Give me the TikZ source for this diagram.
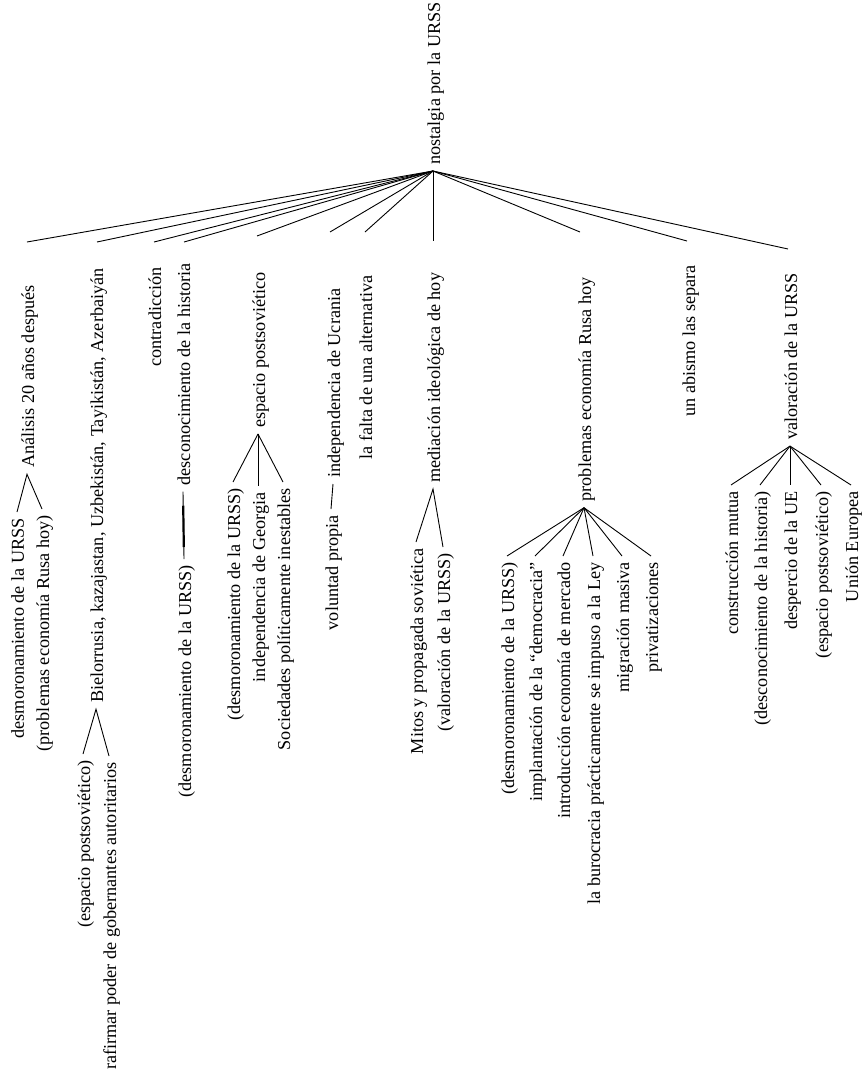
\documentclass[tikz,border=0pt]{standalone}
\usepackage{fontspec}
\setmainfont{Liberation Serif}

\begin{document}
\begin{tikzpicture}[x=0.5pt, y=-0.5pt,
		lbl/.style={rotate=90, inner xsep=3pt, inner ysep=0pt, text height=0.9em, text depth=0.2em, font=\fontsize{9.1}{11}\selectfont},
		lbltop/.style={lbl, anchor=east},
		lblbot/.style={lbl, anchor=west},
		branch/.style={line width=0.45pt}]
		\useasboundingbox (0,0) rectangle (862,1082);

		%root
		\node[lblbot] (root) at (433,171) {nostalgia por la URSS};

		%first level
		\node[lbltop] (analisis) at (27,279) {Análisis 20 años después};
		\node[lbltop] (paises) at (96,262) {Bielorrusia, kazajastan, Uzbekistán, Tayikistán, Azerbaiyán};
		\node[lbltop] (contra) at (154,261) {contradicción};
		\node[lbltop] (descon) at (183,257) {desconocimiento de la historia};
		\node[lbltop] (espacio) at (258,266) {espacio postsoviético};
		\node[lblbot] (ucrania) at (333,484) {independencia de Ucrania};
		\node[lblbot] (falta) at (365,466) {la falta de una alternativa};
		\node[lblbot] (mediacion) at (433,489) {mediación ideológica de hoy};
		\node[lbltop] (problemas) at (584,271) {problemas economía Rusa hoy};
		\node[lbltop] (abismo) at (688,259) {un abismo las separa};
		\node[lbltop] (valoracion) at (790,267) {valoración de la URSS};

		%branches from the root
		\foreach \n/\x/\y in {analisis/27/242, paises/97/242, contra/154/242, descon/184/242, espacio/257/236, ucrania/330/232, falta/365/232, mediacion/433/241, problemas/580/232, abismo/687/241, valoracion/788/249}
		{
			\coordinate (e-\n) at (\x,\y);
			\draw[branch] (root.west) -- (e-\n);
		}

		%second level
		\node[lbltop] (analisis-a) at (17,512) {desmoronamiento de la URSS};
		\node[lbltop] (analisis-b) at (42,509) {(problemas economía Rusa hoy)};
		\draw[branch] (analisis-a.east) -- (analisis.west) -- (analisis-b.east);

		\node[lbltop] (paises-a) at (83,754) {(espacio postsoviético)};
		\node[lbltop] (paises-b) at (109,756) {rafirmar poder de gobernantes autoritarios};
		\draw[branch] (paises-a.east) -- (paises.west) -- (paises-b.east);

		\node[lbltop] (descon-a) at (184,559) {(desmoronamiento de la URSS)};
		\draw[branch] (descon.west) -- (descon-a.east);
		\draw[line width=1.1pt, shorten <=7pt, shorten >=6pt] (descon.west) -- (descon-a.east);

		\node[lbltop] (espacio-a) at (233,482) {(desmoronamiento de la URSS)};
		\node[lbltop] (espacio-b) at (258,486) {independencia de Georgia};
		\node[lbltop] (espacio-c) at (283,482) {Sociedades políticamente inestables};
		\foreach \n in {a,b,c}
			\draw[branch] (espacio.west) -- (espacio-\n.east);

		\node[lbltop] (ucrania-a) at (331,509) {voluntad propia};
		\draw[branch] (ucrania.west) -- (ucrania-a.east);

		\node[lbltop] (mediacion-a) at (416,542) {Mitos y propagada soviética};
		\node[lbltop] (mediacion-b) at (443,547) {(valoración de la URSS)};
		\draw[branch] (mediacion-a.east) -- (mediacion.west) -- (mediacion-b.east);

		\foreach \n/\x/\t in {a/507/{(desmoronamiento de la URSS)}, b/535/{implantación de la “democracia”}, c/563/{introducción economía de mercado}, d/593/{la burocracia prácticamente se impuso a la Ley}, e/622/{migración masiva}, f/651/{privatizaciones}}
		{
			\node[lbltop] (problemas-\n) at (\x,556) {\t};
			\draw[branch] (problemas.west) -- (problemas-\n.east);
		}

		\foreach \n/\x/\t in {a/731/{construcción mutua}, b/760/{(desconocimiento de la historia)}, c/790/{despercio de la UE}, d/821/{(espacio postsoviético)}, e/851/{Unión Europea}}
		{
			\node[lbltop] (valoracion-\n) at (\x,485) {\t};
			\draw[branch] (valoracion.west) -- (valoracion-\n.east);
		}
	\end{tikzpicture}
\end{document}
